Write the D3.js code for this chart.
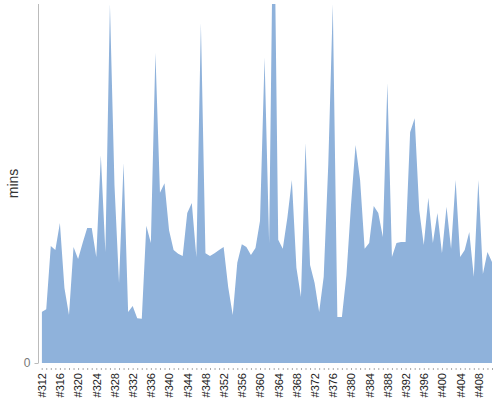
<!DOCTYPE html>
<html>
<head>
<meta charset="utf-8">
<script src="https://cdn.jsdelivr.net/npm/d3@7"></script>
<style>
  html, body { margin: 0; padding: 0; background: #fff; }
  svg { display: block; font-family: "Liberation Sans", Arial, sans-serif; }
</style>
</head>
<body>
<svg id="chart" width="500" height="400"></svg>
<script>
// ---- data ----
const builds = d3.range(312, 412).map(n => "#" + n);
const minutes = [
  14.2, 15.0, 32.6, 31.5, 39.0, 20.9, 13.4, 32.3, 29.0, 33.4,
  37.6, 37.6, 29.5, 57.9, 30.9, 100, 49.6, 22.3, 55.7, 14.2,
  15.9, 12.5, 12.3, 38.2, 33.4, 86.4, 47.4, 50.1, 37.0, 31.5,
  30.4, 29.8, 41.8, 44.6, 29.5, 94.7, 30.6, 29.8, 30.6, 31.5,
  32.3, 21.2, 13.4, 27.9, 33.1, 32.3, 30.1, 32.0, 39.6, 85.2,
  33.4, 140, 34.3, 31.8, 40.4, 51.0, 26.5, 18.4, 61.3, 27.3,
  22.3, 14.2, 24.0, 55.2, 100, 12.8, 12.8, 24.5, 44.0, 60.7,
  51.0, 31.8, 33.4, 43.7, 41.8, 35.1, 78.0, 29.5, 33.4, 33.7,
  33.7, 64.3, 68.2, 42.6, 32.9, 46.0, 33.4, 41.8, 30.6, 43.5,
  31.8, 51.0, 29.5, 31.5, 36.5, 24.0, 51.0, 24.8, 30.9, 28.1
];
const yDomain = [0, 100];
const yTickValues = [0];
const xLabelEvery = 4;
const yTitle = "mins";

// ---- layout ----
const svg = d3.select("#chart");
const plotLeft = 41.7, plotRight = 492, plotTop = 4, plotBottom = 363;

const x = d3.scalePoint().domain(builds).range([plotLeft, plotRight]);
const y = d3.scaleLinear().domain(yDomain).range([plotBottom, plotTop]);

svg.append("defs").append("clipPath").attr("id", "clip")
  .append("rect")
  .attr("x", plotLeft).attr("y", plotTop)
  .attr("width", plotRight - plotLeft).attr("height", plotBottom - plotTop);

const area = d3.area()
  .x((d, i) => x(builds[i]))
  .y0(y(0))
  .y1(d => y(d));

svg.append("path")
  .datum(minutes)
  .attr("clip-path", "url(#clip)")
  .attr("fill", "#8fb2db")
  .attr("d", area);

// y axis
const yAxis = svg.append("g")
  .attr("transform", "translate(38.5,0)")
  .call(d3.axisLeft(y).tickValues(yTickValues).tickSize(4).tickPadding(4));
yAxis.select(".domain").attr("stroke", "#bbb").attr("d", `M0,${plotTop}V${plotBottom}`);
yAxis.selectAll(".tick line").attr("stroke", "#bbb");
yAxis.selectAll(".tick text").attr("fill", "#777").attr("font-size", 12)
  .attr("font-family", "Liberation Sans, Arial, sans-serif");

// x axis
const xAxis = svg.append("g")
  .attr("transform", `translate(0,${plotBottom + 5})`)
  .call(d3.axisBottom(x).tickSize(2).tickPadding(3)
    .tickFormat((d, i) => i % xLabelEvery === 0 ? d : ""));
xAxis.select(".domain").remove();
xAxis.selectAll(".tick line").attr("stroke", "#aaa");
xAxis.selectAll(".tick text")
  .attr("fill", "#222")
  .attr("font-size", 11)
  .attr("font-family", "Liberation Sans, Arial, sans-serif")
  .attr("text-anchor", "end")
  .attr("dy", "0.35em")
  .attr("transform", "translate(0,5) rotate(-90)")
  .attr("x", 0).attr("y", 0);

// y title
svg.append("text")
  .attr("transform", `translate(18,${(plotTop + plotBottom) / 2}) rotate(-90)`)
  .attr("text-anchor", "middle")
  .attr("font-size", 14)
  .attr("fill", "#333")
  .text(yTitle);
</script>
</body>
</html>
